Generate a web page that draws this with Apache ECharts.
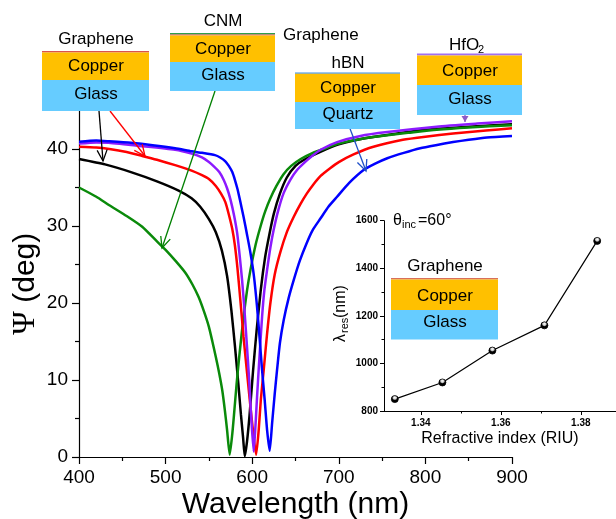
<!DOCTYPE html>
<html><head><meta charset="utf-8">
<script src="https://cdn.jsdelivr.net/npm/echarts@6/dist/echarts.min.js"></script>
<style>html,body{margin:0;padding:0;background:#fff}#c{width:616px;height:519px}</style>
</head><body><div id="c"></div>
<script>
// ---------- data ----------
const blackX = [400,430,460,490,515,530,540,550,558,565,571,576,580,584,587,589.5,591.4,594,597,601,605,610,615,620,625,632,640,650,660,680,700,730,760,800,850,900];
const blackY = [38.7,38.0,37.0,35.8,34.6,33.6,32.5,30.9,29.2,26.8,23.5,19.0,14.5,9.5,5.5,2.5,0.1,2.0,5.5,11.2,16.3,21.8,26.0,29.0,31.6,34.2,36.3,37.8,38.6,39.7,40.6,41.4,41.9,42.5,42.9,43.2];

const greenX = [400,420,435,455,473,490,500,512,523,531,538,544,550,554,558,562,565.5,568.5,571,574,577,579,582,585,590,594,598,604,610,615,621,628,636,645,656,670,680,700,730,756,780,813,850,900];
const greenY = [35.0,33.8,32.7,31.3,29.9,28.0,26.9,25.4,23.9,22.4,20.8,19.0,16.9,15.0,13.0,10.8,8.6,6.0,3.5,0.3,3.0,5.5,9.5,13.0,18.2,21.6,24.3,27.6,30.1,31.9,33.6,35.2,36.7,37.8,38.7,39.5,39.9,40.7,41.4,41.8,42.1,42.5,42.8,43.1];

const redX = [400,420,435,455,473,490,511,530,542,550,558,564,569,573,577,580,583,586,590,594,598,601.7,604.5,607.5,610,613.3,617,621,626,632.5,640,648,656,663,670,679,690,700,717,740,774,800,832,870,900];
const redY = [40.3,40.2,40.0,39.6,39.1,38.6,37.9,37.2,36.6,36.1,35.2,34.2,33.1,31.5,29.6,27.5,24.5,20.8,15.6,11.0,6.5,2.6,0.3,3.5,7.5,11.3,15.8,20.0,23.7,26.6,29.2,31.2,32.9,34.2,35.3,36.5,37.5,38.3,39.3,40.3,41.2,41.6,42.0,42.4,42.7];

const purpleX = [400,420,434,470,511,530,542,550,556,562,567,571,575,579,582.6,585.5,588.3,591,594,596.5,598.6,601.7,604,605.6,608,611.4,614,617.2,621,624.8,630,636.4,644,652,660,667,679,698,725,756,813,860,900];
const purpleY = [40.7,40.85,40.8,40.4,39.9,39.4,38.9,38.3,37.7,37.0,36.0,34.9,33.4,31.4,29.1,26.2,23.0,19.2,14.3,10.0,5.7,0.7,4.5,7.8,12.3,18.2,21.6,24.3,27.2,29.5,32.0,34.3,36.0,37.3,38.2,38.9,39.9,40.9,41.7,42.2,42.9,43.3,43.6];

const blueX = [400,420,435,460,485,511,530,542,557,563,569,573,577,580,583,586,590,594,598,602,605.6,608.5,611.4,614.5,617.2,620.2,623,626,628.7,632,636.4,642,648,655,663,670,679,688,698,712,729,742,756,775,794,812,832,850,871,900];
const blueY = [40.95,41.1,41.0,40.8,40.5,40.1,39.7,39.5,39.2,38.9,38.4,37.8,37.0,36.0,34.8,33.3,31.2,28.9,26.5,23.5,19.5,15.5,11.3,7.3,3.5,0.8,4.4,8.2,11.3,14.8,17.8,20.6,23.0,25.5,27.8,29.5,31.0,32.5,33.8,35.6,37.3,38.1,38.8,39.5,40.1,40.5,40.9,41.2,41.5,41.7];

const insetRI  = [1.3335, 1.3454, 1.3579, 1.3709, 1.3841];
const insetRes = [850, 920, 1054, 1160, 1515];

const mainYTicks  = [0, 10, 20, 30, 40];
const mainYMinor  = [5, 15, 25, 35];
const insetXTicks = [1.34, 1.36, 1.38];
const insetXMinor = [1.35, 1.37];

// ---------- helpers ----------
const FONT = 'Liberation Sans, Arial, sans-serif';
const zip = (xs, ys) => xs.map((x, i) => [x, ys[i]]);
const COPPER = '#FFC000', GLASS = '#66CCFF';

function txt(x, y, s, size, align, extra) {
  return Object.assign({type: 'text', x: x, y: y, silent: true, z: 100,
    style: {text: s, font: size + 'px ' + FONT, fill: '#000',
      textAlign: align || 'center', textVerticalAlign: 'middle'}}, extra || {});
}
function rect(x, y, w, h, fill) {
  return {type: 'rect', silent: true, z: 99, shape: {x: x, y: y, width: w, height: h}, style: {fill: fill}};
}
function arrow(x1, y1, x2, y2, color, len, half, filled) {
  const dx = x2 - x1, dy = y2 - y1, L = Math.hypot(dx, dy);
  const ux = dx / L, uy = dy / L, nx = -uy, ny = ux;
  const bx = x2 - ux * len, by = y2 - uy * len;
  const p1 = [bx + nx * half, by + ny * half], p2 = [bx - nx * half, by - ny * half];
  const out = [{type: 'line', silent: true, z: 98, shape: {x1: x1, y1: y1, x2: x2, y2: y2},
    style: {stroke: color, lineWidth: 1.3}}];
  if (filled) {
    out.push({type: 'polygon', silent: true, z: 98, shape: {points: [p1, [x2, y2], p2]}, style: {fill: color}});
  } else {
    out.push({type: 'polyline', silent: true, z: 98, shape: {points: [p1, [x2, y2], p2]},
      style: {stroke: color, lineWidth: 1.3, fill: 'none'}});
  }
  return out;
}

const graphics = [].concat(
  [rect(42, 51, 107, 1.5, '#D9534F'), rect(42, 52.5, 107, 27.5, COPPER), rect(42, 80, 107, 31, GLASS),
   txt(96, 39, 'Graphene', 17), txt(96, 66, 'Copper', 17), txt(96, 94, 'Glass', 17)],
  [rect(170, 33, 105, 1.5, '#2E9E4A'), rect(170, 34.5, 105, 1, '#E05050'),
   rect(170, 35.5, 105, 26.5, COPPER), rect(170, 62, 105, 29, GLASS),
   txt(223, 21, 'CNM', 17), txt(283, 35, 'Graphene', 17, 'left'),
   txt(223, 49, 'Copper', 17), txt(223, 75, 'Glass', 17)],
  [rect(295, 72.5, 105, 1.2, '#3C8FE0'), rect(295, 73.7, 105, 28.3, COPPER), rect(295, 102, 105, 27, GLASS),
   txt(348, 63, 'hBN', 17), txt(348, 88, 'Copper', 17), txt(348, 114, 'Quartz', 17)],
  [rect(417, 53.5, 105, 2, '#A070F0'), rect(417, 55.5, 105, 29.5, COPPER), rect(417, 85, 105, 30, GLASS),
   txt(464, 45, 'HfO', 17), txt(478, 50, '2', 11, 'left'),
   txt(470, 71, 'Copper', 17), txt(470, 99, 'Glass', 17)],
  [rect(391, 278, 107, 1.5, '#D8705A'), rect(391, 279.5, 107, 30.5, COPPER), rect(391, 310, 107, 29.5, GLASS),
   txt(445, 266, 'Graphene', 17), txt(445, 296, 'Copper', 17), txt(445, 322, 'Glass', 17)],
  [txt(393, 221, 'θ', 16, 'left'), txt(402, 225, 'inc', 11, 'left'), txt(418, 221, '=60°', 16, 'left'),
   {type: 'group', x: 341, y: 312, rotation: Math.PI / 2, silent: true, z: 100, children: [
     txt(-30, 0, 'λ', 16, 'left', {z: 100}), txt(-21, 4, 'res', 11, 'left', {z: 100}), txt(-6, 0, '(nm)', 16, 'left', {z: 100})
   ]}],
  arrow(99, 111, 103, 161, '#000', 11, 5),
  arrow(110, 111, 145, 156, '#FF0000', 11, 5),
  arrow(215, 91, 162, 248, '#008000', 11, 5),
  arrow(349, 126, 366, 171, '#2050C8', 11, 5),
  arrow(465, 115, 465, 122, '#8E5CC8', 6, 3.5, true)
);

const axisBlack = {lineStyle: {color: '#000', width: 1.2}};
const plain = v => String(v);

const option = {
  animation: false,
  backgroundColor: '#fff',
  grid: [
    {left: 79, right: 104, top: 110.5, bottom: 62, outerBoundsMode: 'none', containLabel: false},
    {left: 384, right: 0, top: 220.7, bottom: 108, outerBoundsMode: 'none', containLabel: false},
    {left: 384, right: 0, top: 220.7, bottom: 108, outerBoundsMode: 'none', containLabel: false},
    {left: 79, right: 104, top: 110.5, bottom: 62, outerBoundsMode: 'none', containLabel: false}
  ],
  xAxis: [
    {type: 'value', gridIndex: 0, min: 400, max: 900, interval: 100,
     axisLine: axisBlack, axisTick: {length: 7, lineStyle: {color: '#000', width: 1.2}},
     minorTick: {show: true, splitNumber: 2, length: 4, lineStyle: {color: '#000', width: 1.2}},
     splitLine: {show: false},
     axisLabel: {color: '#000', fontSize: 19, fontFamily: FONT, margin: 11, formatter: plain},
     name: 'Wavelength (nm)', nameLocation: 'middle', nameGap: 33, nameMoveOverlap: false,
     nameTextStyle: {color: '#000', fontSize: 30, fontFamily: FONT}},
    {type: 'value', gridIndex: 1, min: 1.3308, max: 1.3888,
     axisLine: {lineStyle: {color: '#000', width: 1}},
     axisTick: {customValues: insetXTicks, length: 4, lineStyle: {color: '#000', width: 1}},
     splitLine: {show: false},
     axisLabel: {customValues: insetXTicks, color: '#000', fontSize: 10, fontWeight: 'bold', fontFamily: FONT, margin: 7, formatter: plain},
     name: 'Refractive index (RIU)', nameLocation: 'middle', nameGap: 20, nameMoveOverlap: false,
     nameTextStyle: {color: '#000', fontSize: 16, fontFamily: FONT}},
    {type: 'value', gridIndex: 2, min: 1.3308, max: 1.3888,
     axisLine: {show: false}, axisLabel: {show: false}, splitLine: {show: false},
     axisTick: {show: true, customValues: insetXMinor, length: 2.5, lineStyle: {color: '#000', width: 1}}},
    {type: 'value', gridIndex: 3, min: 400, max: 900, show: false}
  ],
  yAxis: [
    {type: 'value', gridIndex: 0, min: 0, max: 45,
     axisLine: {show: true, lineStyle: {color: '#000', width: 1.2}},
     axisTick: {show: true, customValues: mainYTicks, length: 7, lineStyle: {color: '#000', width: 1.2}},
     splitLine: {show: false},
     axisLabel: {customValues: mainYTicks, color: '#000', fontSize: 19, fontFamily: FONT, margin: 11, formatter: plain},
     name: '{p|Ψ} (deg)', nameLocation: 'middle', nameGap: 37, nameMoveOverlap: false,
     nameTextStyle: {color: '#000', fontSize: 30, fontFamily: FONT,
       rich: {p: {fontSize: 32, fontFamily: 'Liberation Serif, serif', color: '#000'}}}},
    {type: 'value', gridIndex: 1, min: 800, max: 1600, interval: 200,
     axisLine: {show: true, lineStyle: {color: '#000', width: 1}},
     axisTick: {show: true, length: 4, lineStyle: {color: '#000', width: 1}},
     minorTick: {show: true, splitNumber: 2, length: 2.5, lineStyle: {color: '#000', width: 1}},
     splitLine: {show: false},
     axisLabel: {color: '#000', fontSize: 10, fontWeight: 'bold', fontFamily: FONT, margin: 6, formatter: plain}},
    {type: 'value', gridIndex: 2, min: 800, max: 1600, show: false},
    {type: 'value', gridIndex: 3, min: 0, max: 45,
     axisLine: {show: false}, axisLabel: {show: false}, splitLine: {show: false},
     axisTick: {show: true, customValues: mainYMinor, length: 4, lineStyle: {color: '#000', width: 1.2}}}
  ],
  series: [
    {type: 'line', name: 'Graphene/Cu/Glass', data: zip(blackX, blackY), color: '#000000'},
    {type: 'line', name: 'CNM', data: zip(greenX, greenY), color: '#0A8A0A'},
    {type: 'line', name: 'Graphene/Cu/Glass 2', data: zip(redX, redY), color: '#FF0000'},
    {type: 'line', name: 'HfO2', data: zip(purpleX, purpleY), color: '#8C1AFF'},
    {type: 'line', name: 'hBN', data: zip(blueX, blueY), color: '#0000FF'}
  ].map(s => Object.assign(s, {xAxisIndex: 0, yAxisIndex: 0, showSymbol: false, smooth: 0.2,
      lineStyle: {width: 2.5, color: s.color}, z: 3})).concat([
    {type: 'line', xAxisIndex: 1, yAxisIndex: 1, data: zip(insetRI, insetRes),
     symbol: 'circle', symbolSize: 7, z: 5,
     lineStyle: {color: '#000', width: 1.2},
     itemStyle: {borderColor: '#000', borderWidth: 0.8,
       color: {type: 'radial', x: 0.5, y: 0.3, r: 0.6,
         colorStops: [{offset: 0, color: '#ffffff'}, {offset: 0.35, color: '#cccccc'}, {offset: 0.6, color: '#000000'}, {offset: 1, color: '#000000'}]}}}
  ]),
  graphic: graphics
};

const chart = echarts.init(document.getElementById('c'), null, {renderer: 'canvas'});
chart.setOption(option);
</script></body></html>
